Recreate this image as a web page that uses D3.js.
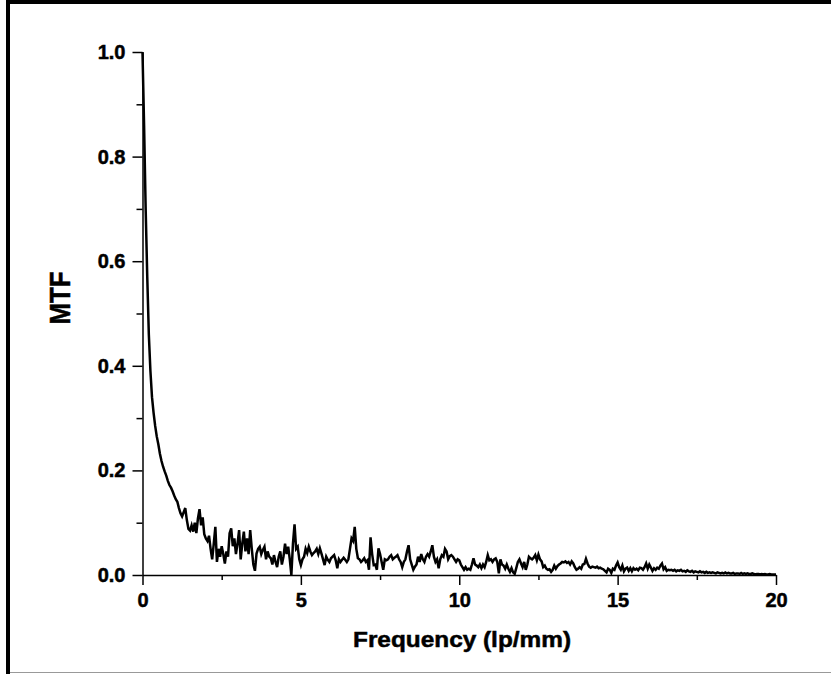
<!DOCTYPE html>
<html>
<head>
<meta charset="utf-8">
<script src="https://cdn.jsdelivr.net/npm/d3@7"></script>
<style>
  html, body { margin: 0; padding: 0; background: #fff; }
  svg { display: block; }
  text { font-family: "Liberation Sans", Arial, sans-serif; font-weight: bold; fill: #000; stroke: #000; stroke-width: 0.5px; }
</style>
</head>
<body>
<svg id="chart" width="831" height="674"></svg>
<script>
// frequency samples (lp/mm)
const frequency = [
  0,0.05,0.1,0.15,0.2,0.25,0.3,0.35,0.4,0.45,0.5,0.55,0.6,0.65,0.7,0.75,0.8,0.85,0.9,0.95,
  1,1.05,1.1,1.15,1.2,1.25,1.3,1.35,1.4,1.45,1.5,1.55,1.6,1.65,1.7,1.75,1.8,1.85,1.9,1.95,
  2,2.05,2.1,2.15,2.2,2.25,2.3,2.35,2.4,2.45,2.5,2.55,2.6,2.65,2.7,2.75,2.8,2.85,2.9,2.95,
  3,3.05,3.1,3.15,3.2,3.25,3.3,3.35,3.4,3.45,3.5,3.55,3.6,3.65,3.7,3.75,3.8,3.85,3.9,3.95,
  4,4.05,4.1,4.15,4.2,4.25,4.3,4.35,4.4,4.45,4.5,4.55,4.6,4.65,4.7,4.75,4.8,4.85,4.9,4.95,
  5,5.05,5.1,5.15,5.2,5.25,5.3,5.35,5.4,5.45,5.5,5.55,5.6,5.65,5.7,5.75,5.8,5.85,5.9,5.95,
  6,6.05,6.1,6.15,6.2,6.25,6.3,6.35,6.4,6.45,6.5,6.55,6.6,6.65,6.7,6.75,6.8,6.85,6.9,6.95,
  7,7.05,7.1,7.15,7.2,7.25,7.3,7.35,7.4,7.45,7.5,7.55,7.6,7.65,7.7,7.75,7.8,7.85,7.9,7.95,
  8,8.05,8.1,8.15,8.2,8.25,8.3,8.35,8.4,8.45,8.5,8.55,8.6,8.65,8.7,8.75,8.8,8.85,8.9,8.95,
  9,9.05,9.1,9.15,9.2,9.25,9.3,9.35,9.4,9.45,9.5,9.55,9.6,9.65,9.7,9.75,9.8,9.85,9.9,9.95,
  10,10.05,10.1,10.15,10.2,10.25,10.3,10.35,10.4,10.45,10.5,10.55,10.6,10.65,10.7,10.75,10.8,10.85,10.9,10.95,
  11,11.05,11.1,11.15,11.2,11.25,11.3,11.35,11.4,11.45,11.5,11.55,11.6,11.65,11.7,11.75,11.8,11.85,11.9,11.95,
  12,12.05,12.1,12.15,12.2,12.25,12.3,12.35,12.4,12.45,12.5,12.55,12.6,12.65,12.7,12.75,12.8,12.85,12.9,12.95,
  13,13.05,13.1,13.15,13.2,13.25,13.3,13.35,13.4,13.45,13.5,13.55,13.6,13.65,13.7,13.75,13.8,13.85,13.9,13.95,
  14,14.05,14.1,14.15,14.2,14.25,14.3,14.35,14.4,14.45,14.5,14.55,14.6,14.65,14.7,14.75,14.8,14.85,14.9,14.95,
  15,15.05,15.1,15.15,15.2,15.25,15.3,15.35,15.4,15.45,15.5,15.55,15.6,15.65,15.7,15.75,15.8,15.85,15.9,15.95,
  16,16.05,16.1,16.15,16.2,16.25,16.3,16.35,16.4,16.45,16.5,16.55,16.6,16.65,16.7,16.75,16.8,16.85,16.9,16.95,
  17,17.05,17.1,17.15,17.2,17.25,17.3,17.35,17.4,17.45,17.5,17.55,17.6,17.65,17.7,17.75,17.8,17.85,17.9,17.95,
  18,18.05,18.1,18.15,18.2,18.25,18.3,18.35,18.4,18.45,18.5,18.55,18.6,18.65,18.7,18.75,18.8,18.85,18.9,18.95,
  19,19.05,19.1,19.15,19.2,19.25,19.3,19.35,19.4,19.45,19.5,19.55,19.6,19.65,19.7,19.75,19.8,19.85,19.9,19.95,
  20
]

const mtf = [
  1.00,0.86,0.70,0.57,0.46,0.39,0.34,0.31,0.285,0.265,0.25,0.232,0.218,0.207,0.198,0.19,0.18,0.172,0.167,0.16,
  0.152,0.145,0.14,0.128,0.118,0.112,0.12,0.128,0.105,0.088,0.085,0.095,0.083,0.1,0.08,0.108,0.126,0.095,0.11,0.078,
  0.07,0.065,0.075,0.05,0.03,0.06,0.092,0.025,0.05,0.035,0.055,0.04,0.022,0.045,0.035,0.08,0.089,0.055,0.07,0.04,
  0.06,0.086,0.03,0.06,0.083,0.045,0.07,0.04,0.086,0.05,0.02,0.008,0.041,0.05,0.054,0.04,0.048,0.054,0.03,0.045,
  0.035,0.032,0.02,0.038,0.025,0.015,0.035,0.045,0.02,0.035,0.06,0.04,0.054,0.03,0.0,0.06,0.097,0.05,0.054,0.03,
  0.019,0.03,0.035,0.05,0.042,0.054,0.045,0.038,0.042,0.045,0.05,0.04,0.051,0.041,0.03,0.019,0.035,0.029,0.025,0.032,
  0.035,0.038,0.028,0.013,0.03,0.025,0.029,0.033,0.029,0.025,0.03,0.05,0.07,0.065,0.092,0.05,0.032,0.03,0.025,0.028,
  0.032,0.025,0.028,0.01,0.072,0.04,0.019,0.02,0.01,0.051,0.04,0.025,0.01,0.03,0.028,0.03,0.035,0.038,0.03,0.033,
  0.035,0.038,0.03,0.025,0.015,0.025,0.03,0.045,0.057,0.03,0.02,0.01,0.016,0.02,0.035,0.025,0.04,0.03,0.025,0.035,
  0.04,0.035,0.045,0.057,0.035,0.025,0.03,0.013,0.03,0.038,0.035,0.05,0.045,0.03,0.036,0.038,0.035,0.03,0.025,0.03,
  0.028,0.02,0.015,0.01,0.015,0.01,0.012,0.01,0.02,0.032,0.02,0.018,0.015,0.02,0.013,0.02,0.015,0.025,0.038,0.028,
  0.03,0.025,0.03,0.032,0.025,0.003,0.03,0.02,0.018,0.012,0.02,0.012,0.006,0.013,0.005,0.002,0.013,0.025,0.03,0.022,
  0.015,0.025,0.01,0.02,0.035,0.032,0.03,0.033,0.038,0.028,0.039,0.03,0.026,0.015,0.018,0.012,0.01,0.011,0.006,0.01,
  0.018,0.012,0.017,0.02,0.022,0.025,0.024,0.026,0.023,0.025,0.02,0.026,0.022,0.015,0.01,0.012,0.015,0.012,0.02,0.021,
  0.031,0.022,0.016,0.014,0.016,0.015,0.014,0.016,0.013,0.014,0.012,0.011,0.008,0.005,0.012,0.01,0.004,0.012,0.01,0.018,
  0.024,0.015,0.01,0.018,0.007,0.012,0.014,0.008,0.013,0.007,0.013,0.01,0.012,0.009,0.014,0.013,0.01,0.015,0.022,0.012,
  0.02,0.014,0.008,0.013,0.01,0.014,0.012,0.018,0.022,0.011,0.015,0.008,0.01,0.009,0.01,0.008,0.01,0.007,0.009,0.008,
  0.01,0.007,0.008,0.006,0.009,0.007,0.006,0.008,0.005,0.007,0.006,0.005,0.007,0.005,0.006,0.004,0.006,0.004,0.005,0.004,
  0.005,0.004,0.003,0.005,0.004,0.003,0.004,0.003,0.005,0.003,0.004,0.003,0.003,0.004,0.002,0.003,0.003,0.002,0.004,0.002,
  0.003,0.002,0.003,0.002,0.002,0.003,0.002,0.001,0.002,0.002,0.001,0.002,0.001,0.002,0.001,0.001,0.002,0.001,0.001,0.001,
  0.001
]

const xTicks = [0, 5, 10, 15, 20]
const xMinorTicks = [2.5, 7.5, 12.5, 17.5]
const yTicks = [0, 0.2, 0.4, 0.6, 0.8, 1.0]
const yMinorTicks = [0.1, 0.3, 0.5, 0.7, 0.9]

const svg = d3.select("#chart")

// frame: thick black top and left, thin grey bottom
svg.append("rect").attr("x", 6).attr("y", 0).attr("width", 825).attr("height", 4).attr("fill", "#000")
svg.append("rect").attr("x", 6).attr("y", 0).attr("width", 4).attr("height", 674).attr("fill", "#000")
svg.append("line").attr("x1", 10).attr("x2", 831).attr("y1", 672.5).attr("y2", 672.5)
   .attr("stroke", "#999").attr("stroke-width", 1)

const xScale = d3.scaleLinear().domain([0, 20]).range([142.5, 776])
const yScale = d3.scaleLinear().domain([0, 1]).range([575, 52])

// minor ticks first, then major axes over them
svg.append("g")
   .attr("transform", "translate(0,575)")
   .call(d3.axisBottom(xScale).tickValues(xMinorTicks).tickSize(5).tickFormat(""))
   .call(g => g.select(".domain").remove())
svg.append("g")
   .attr("transform", "translate(142.5,0)")
   .call(d3.axisLeft(yScale).tickValues(yMinorTicks).tickSize(6).tickFormat(""))
   .call(g => g.select(".domain").remove())

const xAxis = svg.append("g")
   .attr("transform", "translate(0,575)")
   .call(d3.axisBottom(xScale).tickValues(xTicks).tickSize(10).tickSizeOuter(0).tickPadding(8).tickFormat(d3.format("d")))
xAxis.selectAll("text").style("font-size", "20px").style("font-family", null)

const yAxis = svg.append("g")
   .attr("transform", "translate(142.5,0)")
   .call(d3.axisLeft(yScale).tickValues(yTicks).tickSize(10).tickSizeOuter(0).tickPadding(7).tickFormat(d3.format(".1f")))
yAxis.selectAll("text").style("font-size", "20px").style("font-family", null)

svg.selectAll(".domain, .tick line").attr("stroke", "#000").attr("stroke-width", 1.5)

const points = frequency.map((f, i) => [f, mtf[i]])

svg.append("path")
   .datum(points)
   .attr("fill", "none")
   .attr("stroke", "#000")
   .attr("stroke-width", 2.5)
   .attr("stroke-linejoin", "miter")
   .attr("d", d3.line().x(d => xScale(d[0])).y(d => yScale(d[1])))

svg.append("text")
   .attr("x", 462).attr("y", 647)
   .attr("text-anchor", "middle")
   .attr("textLength", 218).attr("lengthAdjust", "spacingAndGlyphs")
   .style("font-size", "22px")
   .text("Frequency (lp/mm)")

svg.append("text")
   .attr("transform", "translate(70,298) rotate(-90)")
   .attr("text-anchor", "middle")
   .attr("textLength", 53).attr("lengthAdjust", "spacingAndGlyphs")
   .style("font-size", "29px")
   .text("MTF")
</script>
</body>
</html>
